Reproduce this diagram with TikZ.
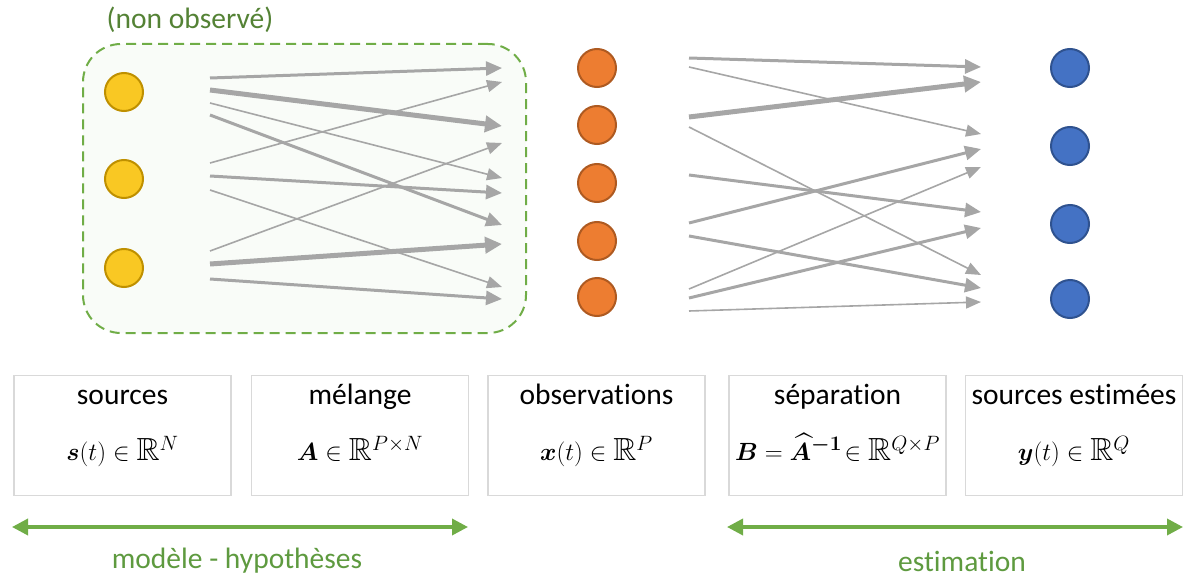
\documentclass[tikz,border=0pt]{standalone}
\usepackage{amsmath,amssymb,bm}
\usepackage{fontspec}
\setmainfont{Carlito}[Ligatures=NoCommon]
\usetikzlibrary{arrows.meta,positioning,shapes.geometric}
\definecolor{cY}{RGB}{249,200,35}
\definecolor{cYd}{RGB}{191,144,0}
\definecolor{cO}{RGB}{237,125,49}
\definecolor{cOd}{RGB}{174,90,33}
\definecolor{cBl}{RGB}{68,114,196}
\definecolor{cBd}{RGB}{47,82,143}
\definecolor{cG}{RGB}{112,173,71}
\definecolor{cGd}{RGB}{84,130,53}
\definecolor{cGt}{RGB}{94,154,63}
\definecolor{cAr}{RGB}{166,166,166}
\tikzset{
  dot/.style={draw, circle, minimum size=38pt, inner sep=0pt, line width=2pt},
  zone/.style={draw=cG, fill=cG!4, dash pattern=on 10pt off 6pt, line width=2pt, rounded corners=38pt, minimum width=443pt, minimum height=289pt},
  box/.style={draw=black!15, line width=1.2pt, minimum width=217pt, minimum height=120pt},
  ttl/.style={anchor=base, inner sep=0pt, font=\fontsize{29.5}{34}\selectfont},
  mth/.style={anchor=base, inner sep=0pt, font=\fontsize{32}{36}\selectfont},
  thn/.style={draw=cAr, line width=1.6pt, -{Triangle[length=15pt,width=12pt]}},
  med/.style={draw=cAr, line width=3pt, -{Triangle[length=16pt,width=14pt]}},
  thk/.style={draw=cAr, line width=5pt, -{Triangle[length=17pt,width=16pt]}},
  span/.style={draw=cG, line width=3.5pt, {Triangle[length=16pt,width=16pt]}-{Triangle[length=16pt,width=16pt]}},
  lbl/.style={inner sep=0pt, font=\fontsize{29.5}{34}\selectfont}
}

\begin{document}
\begin{tikzpicture}[x=1pt, y=-1pt]
  \useasboundingbox (0,0) rectangle (1183,578);
  % zone non observee
  \node[zone] (z) at (304.5,188.5) {};
  \node[lbl, text=cGd] (nobs) at (190,20) {(non observé)};
  % sources, observations, estimations
  \foreach \i/\y in {1/92, 2/179, 3/268}
    \node[dot, fill=cY, draw=cYd] (s\i) at (124,\y) {};
  \foreach \i/\y in {1/68, 2/125, 3/183, 4/241, 5/297}
    \node[dot, fill=cO, draw=cOd] (x\i) at (597,\y) {};
  \foreach \i/\y in {1/68, 2/146, 3/224, 4/299}
    \node[dot, fill=cBl, draw=cBd] (y\i) at (1070,\y) {};
  % melange
  \foreach \i/\ya/\yb/\st in {1/78/68/med, 2/90/126/thk, 3/103/178/thn, 4/115/225/med, 5/163/82/thn,
      6/176/193/med, 7/190/287/thn, 8/251/143/thn, 9/264/244/thk, 10/279/299/med} {
    \coordinate (ma\i) at (210,\ya);
    \coordinate (mb\i) at (502,\yb);
    \draw[\st] (ma\i) -- (mb\i);
  }
  % separation
  \foreach \i/\ya/\yb/\st in {1/58/67/med, 2/67/134/thn, 3/117/82/thk, 4/127/275/thn, 5/175/212/med,
      6/223/149/med, 7/236/288/med, 8/289/167/thn, 9/298/228/med, 10/311/302/thn} {
    \coordinate (sa\i) at (689,\ya);
    \coordinate (sb\i) at (981,\yb);
    \draw[\st] (sa\i) -- (sb\i);
  }
  % cadres
  \foreach \n/\x/\t/\m in {1/122.5/sources/{$\boldsymbol{s}(t)\in\mathbb{R}^N$},
      2/360/mélange/{$\boldsymbol{A}\in\mathbb{R}^{P\times N}$},
      3/596.5/observations/{$\boldsymbol{x}(t)\in\mathbb{R}^P$},
      4/837.5/séparation/{$\boldsymbol{B}=\widehat{\boldsymbol{A}}^{\boldsymbol{-1}}\!\in\mathbb{R}^{Q\times P}$},
      5/1074/sources estimées/{$\boldsymbol{y}(t)\in\mathbb{R}^Q$}} {
    \node[box] (b\n) at (\x,435.5) {};
    \node[ttl] (t\n) at (\x,404) {\t};
    \node[mth] (m\n) at (\x,460) {\m};
  }
  % etendues
  \coordinate (hl) at (12,527); \coordinate (hr) at (468,527);
  \coordinate (el) at (727,527); \coordinate (er) at (1183,527);
  \draw[span] (hl) -- (hr);
  \draw[span] (el) -- (er);
  \node[lbl, text=cGt] (hyp) at (237,561) {modèle - hypothèses};
  \node[lbl, text=cGt] (est) at (962,561) {estimation};
\end{tikzpicture}
\end{document}
